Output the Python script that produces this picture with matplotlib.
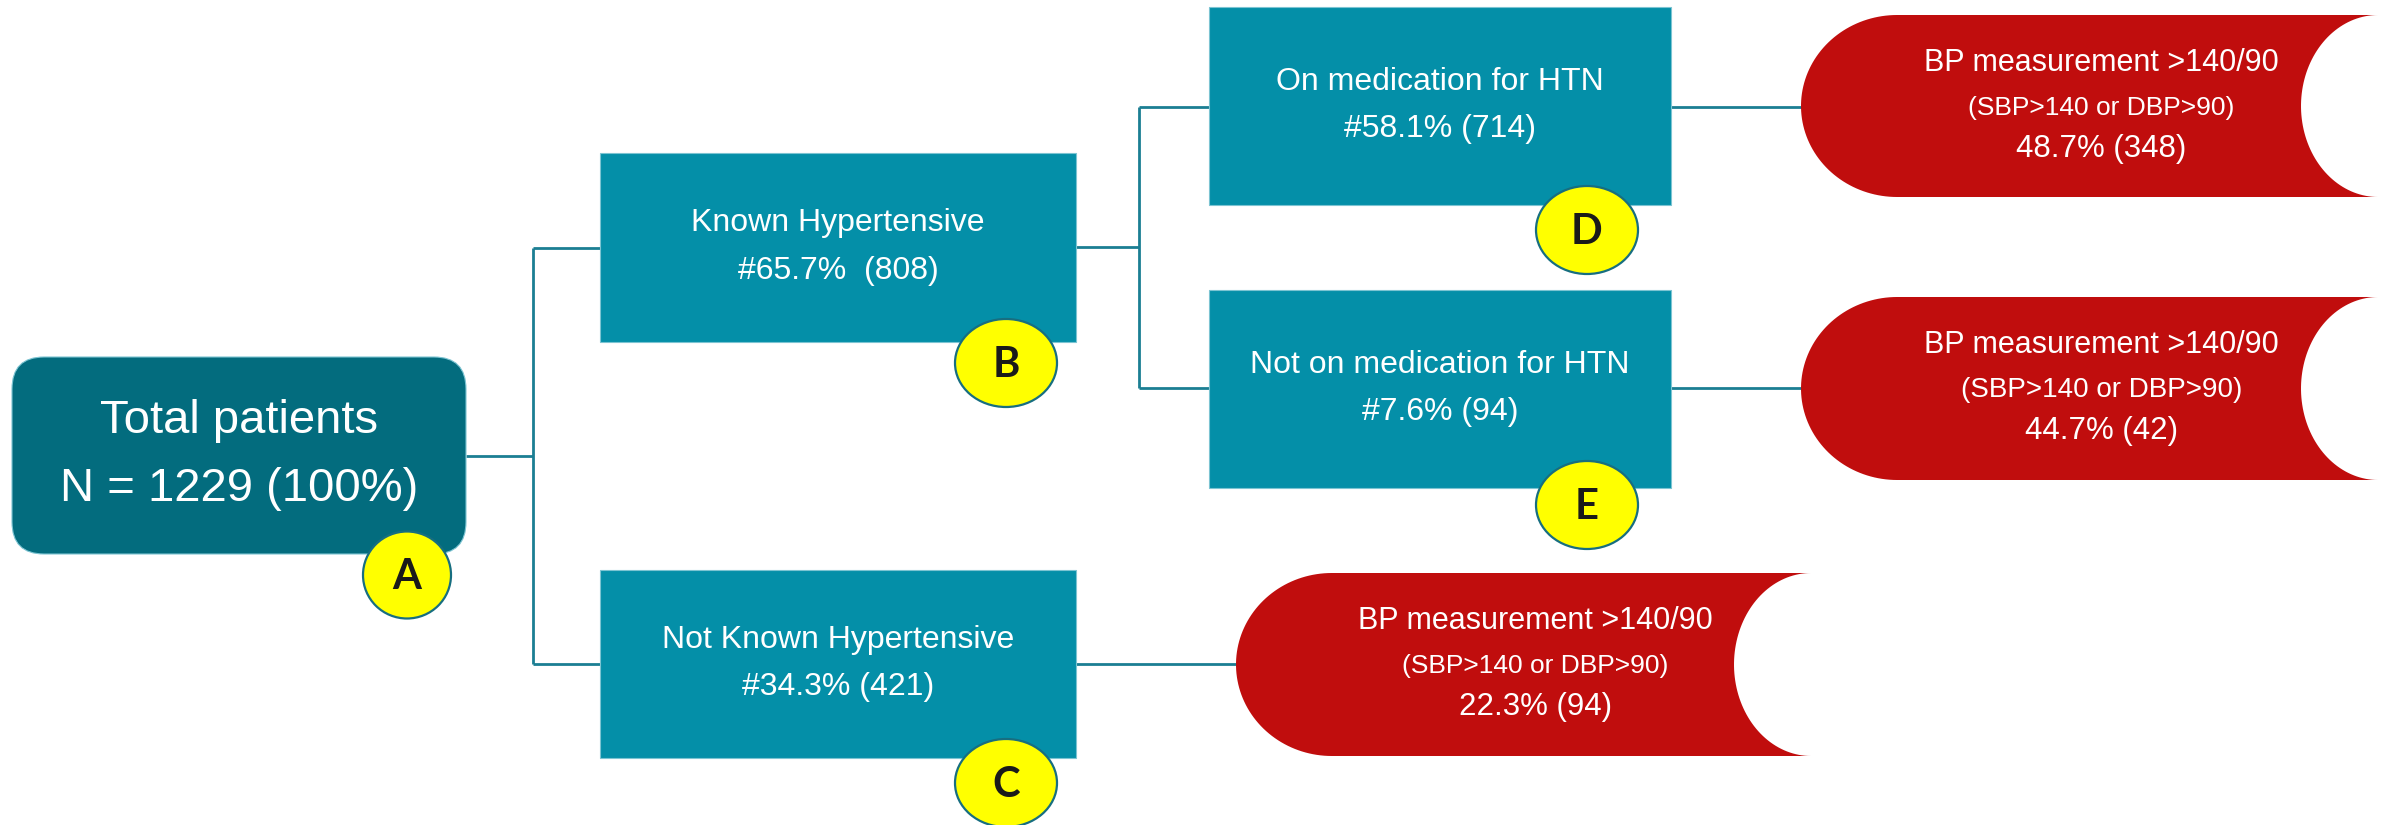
import numpy as np
import matplotlib
matplotlib.use("Agg")
from matplotlib import pyplot as plt
import matplotlib.patches as mpatches

# ---- chart content ----
total_label = "Total patients"
total_n = 1229

branch_labels = ["Known Hypertensive", "Not Known Hypertensive",
                 "On medication for HTN", "Not on medication for HTN"]
branch_pct = [65.7, 34.3, 58.1, 7.6]
branch_n = [808, 421, 714, 94]
branch_fmt = ["#{:.1f}%  ({})", "#{:.1f}% ({})", "#{:.1f}% ({})", "#{:.1f}% ({})"]

bp_title = "BP measurement >140/90"
bp_sub = "(SBP>140 or DBP>90)"
bp_pct = [48.7, 44.7, 22.3]   # on medication, not on medication, not known
bp_n = [348, 42, 94]

badges = ["A", "B", "C", "D", "E"]

# ---- layout (pixel units) ----
W, H = 2387, 825
teal_dark = "#036C7E"
teal = "#048FA8"
red = "#C00D0D"
line_c = "#1B7E93"

fig = plt.figure(figsize=(W / 100, H / 100), dpi=100)
ax = fig.add_axes([0, 0, 1, 1])
ax.set_xlim(0, W)
ax.set_ylim(H, 0)
ax.axis("off")

txt = dict(color="white", ha="center", va="center", family=["Liberation Sans", "DejaVu Sans"])


def seg(x0, y0, x1, y1):
    ax.plot([x0, x1], [y0, y1], color=line_c, lw=2, zorder=1, solid_capstyle="butt")


def rect_box(x0, y0, x1, y1, label, sub, fs=23):
    ax.add_patch(mpatches.Rectangle((x0, y0), x1 - x0, y1 - y0, facecolor=teal,
                                    edgecolor="#7CC4D2", lw=0.8, zorder=2))
    cx = (x0 + x1) / 2
    cy = (y0 + y1) / 2
    ax.text(cx, cy - 24, label, fontsize=fs, zorder=3, **txt)
    ax.text(cx, cy + 23, sub, fontsize=fs, zorder=3, **txt)


def badge(cx, cy, letter, w=102, h=88):
    ax.add_patch(mpatches.Ellipse((cx, cy), w, h, facecolor="#FFFF00",
                                  edgecolor="#176E80", lw=1.6, zorder=4))
    ax.text(cx, cy + 2, letter, fontsize=30, fontweight="bold", color="#1A1A1A",
            ha="center", va="center", family=["Lato", "DejaVu Sans"], zorder=5)


def stored_data(x0, y0, x1, y1, pct, n, sub_fs):
    h = y1 - y0
    yc = (y0 + y1) / 2
    rl = (x1 - x0) / 6
    rr = 77
    t = np.linspace(-np.pi / 2, np.pi / 2, 80)
    right = np.column_stack([x1 - rr * np.cos(t), yc + h / 2 * np.sin(t)])
    left = np.column_stack([x0 + rl - rl * np.cos(t[::-1]), yc + h / 2 * np.sin(t[::-1])])
    pts = np.vstack([[x0 + rl, y0], [x1, y0], right, [x0 + rl, y1], left])
    ax.add_patch(mpatches.Polygon(pts, closed=True, facecolor=red, edgecolor="none", zorder=2))
    cx = (x0 + x1) / 2 + 12
    ax.text(cx, y0 + 48, bp_title, fontsize=22, zorder=3, **txt)
    ax.text(cx, y0 + 93, bp_sub, fontsize=sub_fs, zorder=3, **txt)
    ax.text(cx, y0 + 134, "{:.1f}% ({})".format(pct, n), fontsize=22.5, zorder=3, **txt)


# connectors
seg(466, 456, 533, 456)
seg(533, 248, 533, 664)
seg(533, 248, 600, 248)
seg(533, 664, 600, 664)
seg(1076, 247, 1139, 247)
seg(1139, 107, 1139, 388)
seg(1139, 107, 1209, 107)
seg(1139, 388, 1209, 388)
seg(1671, 107, 1805, 107)
seg(1671, 388, 1805, 388)
seg(1076, 664, 1240, 664)

# root box
ax.add_patch(mpatches.FancyBboxPatch((12, 357), 454, 197,
                                     boxstyle="round,pad=0,rounding_size=32",
                                     facecolor=teal_dark, edgecolor="#7CC4D2", lw=0.8, zorder=2))
ax.text(239, 421, total_label, fontsize=34, zorder=3, **txt)
ax.text(239, 489, "N = {} (100%)".format(total_n), fontsize=34, zorder=3, **txt)

# branch boxes
boxes = [(600, 153, 1076, 342), (600, 570, 1076, 758),
         (1209, 7, 1671, 205), (1209, 290, 1671, 488)]
for (x0, y0, x1, y1), lab, p, n, f in zip(boxes, branch_labels, branch_pct, branch_n, branch_fmt):
    rect_box(x0, y0, x1, y1, lab, f.format(p, n))

# BP outcome shapes
shapes = [(1801, 15, 2378, 197), (1801, 297, 2378, 480), (1236, 573, 1811, 756)]
sub_sizes = [19, 20, 19]
for (x0, y0, x1, y1), p, n, fs in zip(shapes, bp_pct, bp_n, sub_sizes):
    stored_data(x0, y0, x1, y1, p, n, fs)

# letter badges
badge_pos = [(407, 575), (1006, 363), (1006, 783), (1587, 230), (1587, 505)]
badge(*badge_pos[0], badges[0], w=88, h=87)
for (bx, by), letter in zip(badge_pos[1:], badges[1:]):
    badge(bx, by, letter)

fig.savefig("out.png", dpi=100, facecolor="white")
